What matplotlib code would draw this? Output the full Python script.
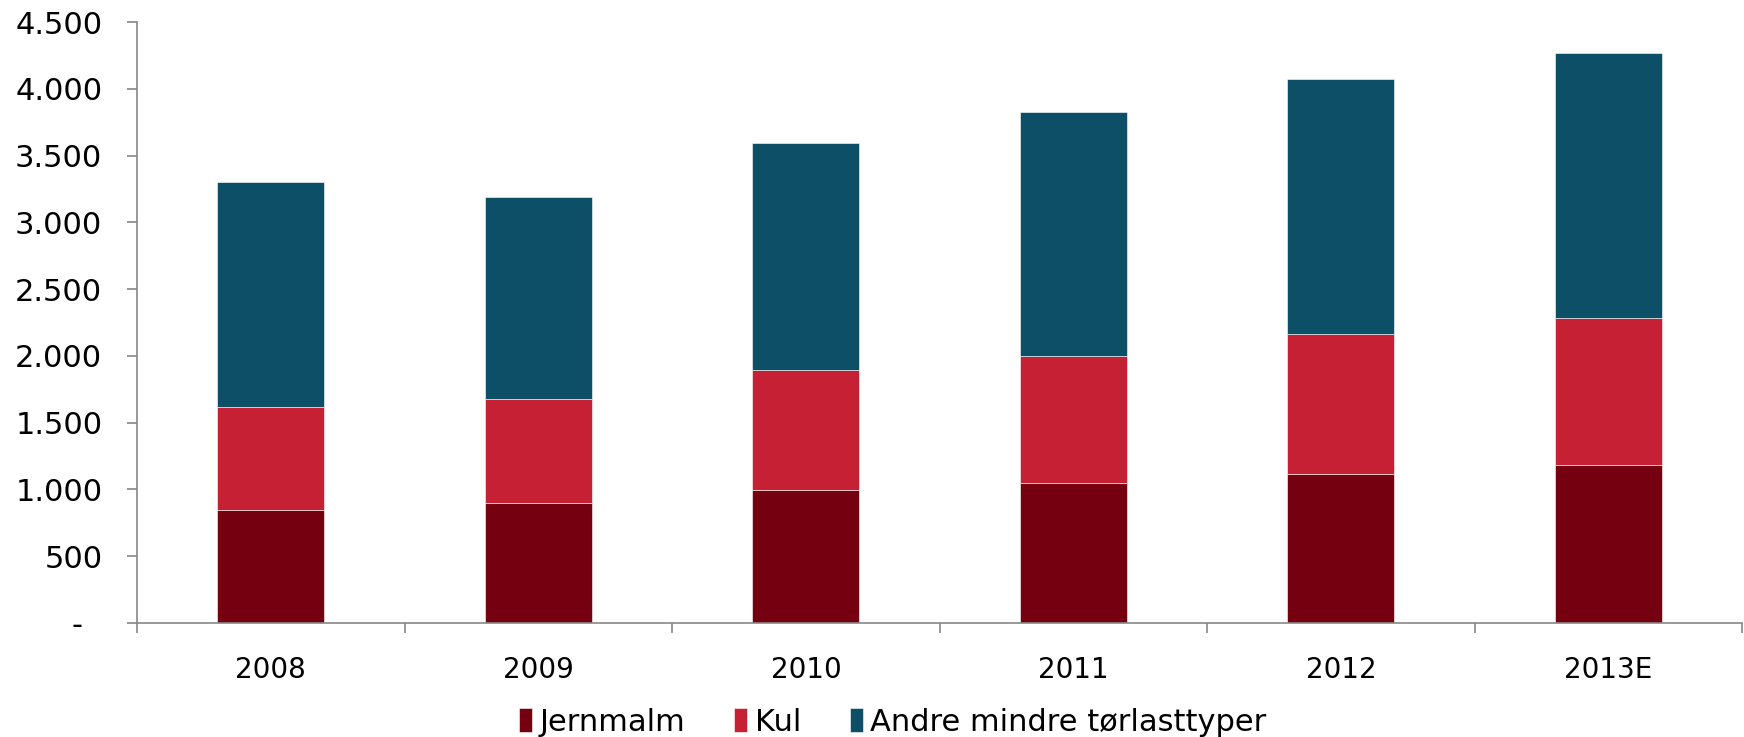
import numpy as np
import matplotlib.pyplot as plt
from matplotlib.ticker import FixedLocator, FuncFormatter

# data
years = ['2008', '2009', '2010', '2011', '2012', '2013E']
jernmalm = [843, 900, 992, 1050, 1113, 1180]
kul = [774, 777, 900, 950, 1049, 1102]
andre = [1683, 1513, 1700, 1825, 1910, 1988]

labels = ['Jernmalm', 'Kul', 'Andre mindre tørlasttyper']
colors = ['#75000F', '#C62035', '#0D4F66']

plt.rcParams['font.family'] = ['DejaVu Sans']

fig = plt.figure(figsize=(17.44, 7.37), dpi=100)
ax = fig.add_axes([0.0786, 0.155, 0.9204, 0.815])

x = np.arange(len(years))
w = 0.4
bottom = np.zeros(len(years))
for vals, lbl, c in zip([jernmalm, kul, andre], labels, colors):
    ax.bar(x, vals, w, bottom=bottom, color=c, label=lbl,
           edgecolor='white', linewidth=0.4)
    bottom += np.array(vals)

ax.set_xlim(-0.5, len(years) - 0.5)
ax.set_ylim(0, 4500)
ax.set_yticks(np.arange(0, 4501, 500))

def fmt(v, pos):
    # Excel-style: zero shown as a dash, "." as thousands separator
    if v == 0:
        return '-  '
    return f'{int(v):,}'.replace(',', '.')

ax.yaxis.set_major_formatter(FuncFormatter(fmt))

# category labels centred, tick marks on the boundaries
ax.set_xticks(x)
ax.set_xticklabels(years)
ax.tick_params(axis='x', which='major', length=0, pad=24, labelsize=20)
ax.xaxis.set_minor_locator(FixedLocator(np.arange(-0.5, len(years), 1.0)))
ax.tick_params(axis='x', which='minor', length=7, color='#888888', width=1.2)
ax.tick_params(axis='y', length=7, color='#888888', width=1.2, pad=18,
               labelsize=22)

for s in ['top', 'right']:
    ax.spines[s].set_visible(False)
for s in ['left', 'bottom']:
    ax.spines[s].set_color('#888888')
    ax.spines[s].set_linewidth(1.2)

leg = fig.legend(loc='center', bbox_to_anchor=(0.512, 0.02), ncol=3,
                 frameon=False, handlelength=0.42, handleheight=0.85,
                 handletextpad=0.25, columnspacing=1.6,
                 prop={'family': ['DejaVu Sans'], 'size': 22})

fig.savefig('out.png', dpi=100)
